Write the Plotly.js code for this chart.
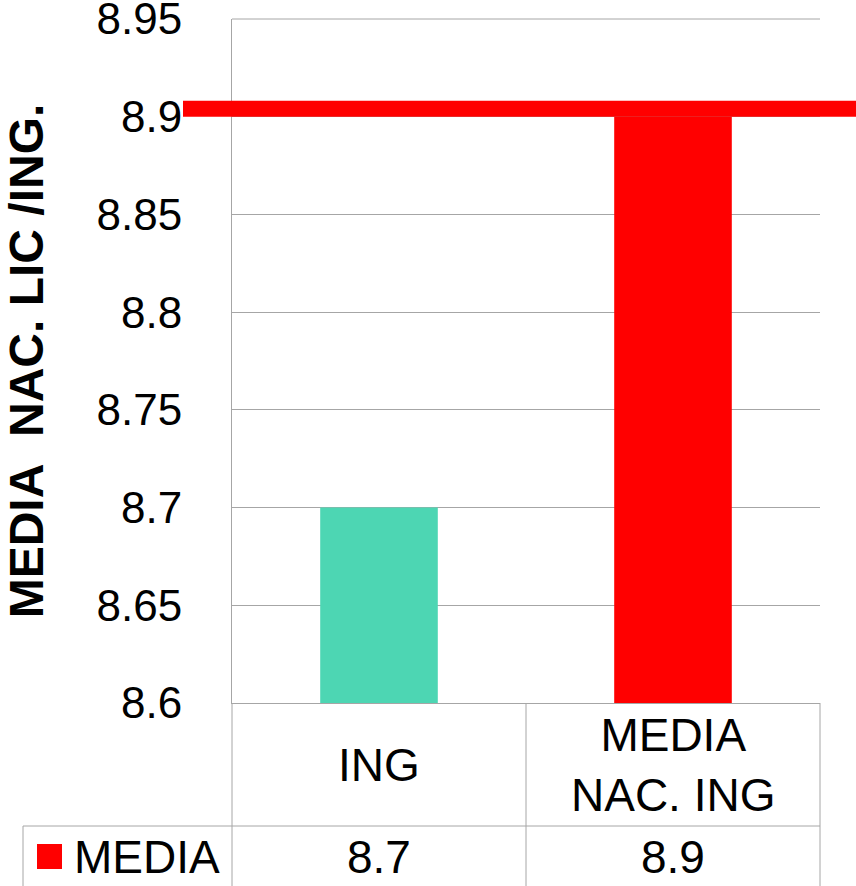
<!DOCTYPE html>
<html>
<head>
<meta charset="utf-8">
<script src="https://cdn.plot.ly/plotly-3.0.1.min.js"></script>
<style>html,body{margin:0;padding:0;background:#fff;}#chart{width:856px;height:886px;}</style>
</head>
<body>
<div id="chart"></div>
<script>
// ---- data ----
const categories = ['ING', 'MEDIA<br>NAC. ING'];
const values = [8.7, 8.9];
const barColors = ['#4DD6B3', '#FF0000'];
const seriesName = 'MEDIA';
const mediaNacional = 8.9;
const tickVals = [8.6, 8.65, 8.7, 8.75, 8.8, 8.85, 8.9, 8.95];
const tickText = ['8.6', '8.65', '8.7', '8.75', '8.8', '8.85', '8.9', '8.95'];
const yTitle = 'MEDIA&nbsp; NAC. LIC /ING.';

// ---- geometry helpers (pixel -> paper) ----
const L = 232, R = 36, T = 19, B = 183, W = 856, H = 886;
const pw = W - L - R, ph = H - T - B;
const px = x => (x - L) / pw;
const py = y => (H - B - y) / ph;
const FONT = 'Liberation Sans, Arial, sans-serif';
const GRID = '#a6a6a6';

const trace = {
  type: 'bar',
  x: categories,
  y: values,
  name: seriesName,
  marker: {color: barColors, line: {width: 0}},
  width: 0.4,
  showlegend: false,
  hoverinfo: 'x+y'
};

const lineStyle = {color: GRID, width: 1};
const shapes = [
  // top border of plot (8.95 gridline)
  {type: 'line', xref: 'paper', yref: 'paper', x0: 0, x1: 1, y0: 1, y1: 1, line: lineStyle, layer: 'above'},
  // red reference line (MEDIA NAC.)
  {type: 'rect', xref: 'paper', yref: 'y', x0: px(183), x1: px(856),
   ysizemode: 'pixel', yanchor: mediaNacional, y0: 0, y1: 16,
   fillcolor: '#FF0000', line: {width: 0}, layer: 'above'},
  // table lines
  {type: 'line', xref: 'paper', yref: 'paper', x0: px(23), x1: 1, y0: py(826), y1: py(826), line: lineStyle},
  {type: 'line', xref: 'paper', yref: 'paper', x0: 0, x1: 0, y0: 0, y1: py(890), line: lineStyle},
  {type: 'line', xref: 'paper', yref: 'paper', x0: 0.5, x1: 0.5, y0: 0, y1: py(890), line: lineStyle},
  {type: 'line', xref: 'paper', yref: 'paper', x0: 1, x1: 1, y0: 0, y1: py(890), line: lineStyle},
  {type: 'line', xref: 'paper', yref: 'paper', x0: px(23), x1: px(23), y0: py(826), y1: py(890), line: lineStyle},
  // legend key
  {type: 'rect', xref: 'paper', yref: 'paper', x0: px(37), x1: px(62), y0: py(869), y1: py(844),
   fillcolor: barColors[1], line: {width: 0}}
];

const annotations = [];
categories.forEach((c, i) => {
  annotations.push({x: c, xref: 'x', y: py(765), yref: 'paper', text: c, showarrow: false,
    xanchor: 'center', yanchor: 'middle', font: {family: FONT, size: 46, color: '#000'}});
  annotations.push({x: c, xref: 'x', y: py(857), yref: 'paper', text: String(values[i]), showarrow: false,
    xanchor: 'center', yanchor: 'middle', font: {family: FONT, size: 46, color: '#000'}});
});
annotations.push({x: px(72), xref: 'paper', y: py(857), yref: 'paper', text: seriesName, showarrow: false,
  xanchor: 'left', yanchor: 'middle', font: {family: FONT, size: 46, color: '#000'}});

const layout = {
  width: W, height: H,
  margin: {l: L, r: R, t: T, b: B, pad: 0},
  paper_bgcolor: '#fff', plot_bgcolor: '#fff',
  showlegend: false,
  xaxis: {type: 'category', range: [-0.5, 1.5], showticklabels: false, ticks: '',
    showgrid: false, zeroline: false, showline: true, linecolor: GRID, linewidth: 1, fixedrange: true},
  yaxis: {range: [8.6, 8.9500001], tickmode: 'array', tickvals: tickVals, ticktext: tickText,
    showgrid: true, gridcolor: GRID, gridwidth: 1,
    zeroline: false, showline: true, linecolor: GRID, linewidth: 1, ticks: '',
    ticklabelstandoff: 40, ticklabeloverflow: 'allow',
    tickfont: {family: FONT, size: 44, color: '#000'},
    automargin: 'left',
    title: {text: yTitle, standoff: 50, font: {family: FONT, size: 48, color: '#000', weight: 'bold'}},
    fixedrange: true},
  shapes: shapes,
  annotations: annotations
};

Plotly.newPlot('chart', [trace], layout, {displayModeBar: false, staticPlot: true});
</script>
</body>
</html>
